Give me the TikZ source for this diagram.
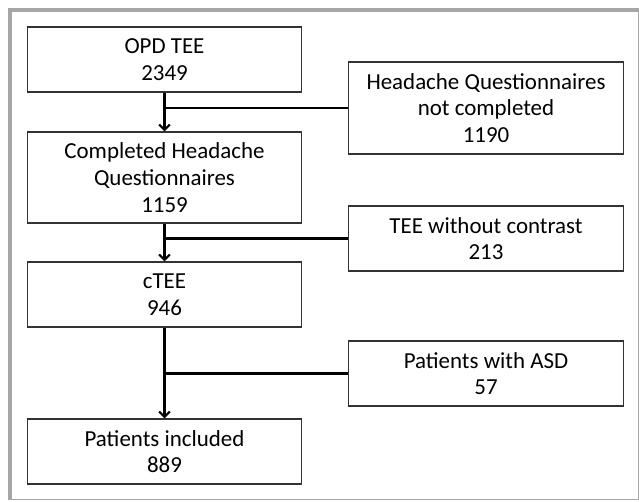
\documentclass[tikz,border=0pt]{standalone}
\usepackage{fontspec}
\setmainfont{Carlito}
\usetikzlibrary{positioning, arrows.meta}

\begin{document}
\begin{tikzpicture}[x=0.75pt, y=-0.75pt,
    box/.style={rectangle, draw=black!80, line width=0.9pt, fill=white, align=center,
      minimum width=206pt, font=\fontsize{17.2}{20}\selectfont},
    flow/.style={line width=1.6pt, black}]
  % frame round the whole chart
  \useasboundingbox (0,0) rectangle (639,502);
  \fill[black!35] (8,8) rectangle (638.5,500);
  \fill[white] (12,12) rectangle (637.5,499);

  % main column
  \node[box, minimum height=48.75pt] at (164.5,59.5) (opd) {OPD TEE\\2349};
  \node[box, minimum height=68.25pt] at (164.5,177.5) (comp) {Completed Headache\\Questionnaires\\1159};
  \node[box, minimum height=48.75pt] at (164.5,294.5) (ctee) {cTEE\\946};
  \node[box, minimum height=48.75pt] at (164.5,451.5) (incl) {Patients included\\889};

  % excluded ones
  \node[box, minimum height=69pt] at (486,108) (notdone) {Headache Questionnaires\\not completed\\1190};
  \node[box, minimum height=48.75pt] at (486,238.5) (nocontrast) {TEE without contrast\\213};
  \node[box, minimum height=48.75pt] at (486,373.5) (asd) {Patients with ASD\\57};

  \draw[flow, -{Straight Barb[length=4pt,width=8pt]}] (opd) -- (comp);
  \draw[flow, -{Straight Barb[length=4pt,width=8pt]}] (comp) -- (ctee);
  \draw[flow, -{Straight Barb[length=4pt,width=8pt]}] (ctee) -- (incl);
  \draw[flow] (notdone.west) -- (notdone.west -| opd.south);
  \draw[flow] (nocontrast.west) -- (nocontrast.west -| comp.south);
  \draw[flow] (asd.west) -- (asd.west -| ctee.south);
\end{tikzpicture}
\end{document}
